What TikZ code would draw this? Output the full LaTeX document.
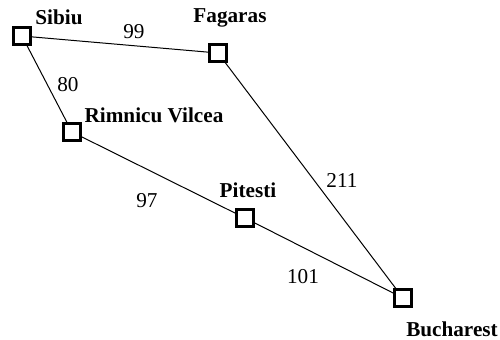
\documentclass[tikz,border=0pt]{standalone}
\usepackage{fontspec}
\setmainfont{Liberation Serif}
\begin{document}
\begin{tikzpicture}[x=0.5pt,y=-0.5pt,font=\fontsize{10.6}{12}\selectfont]
 \tikzstyle{v} = [rectangle, draw, line width=1.5pt, fill=white, inner sep=0pt, minimum size=8.3pt]
    \tikzstyle{e} = [line width=0.5pt]
    \tikzstyle{city} = [inner sep=0pt, font=\fontsize{10.6}{12}\selectfont\bfseries]
    \tikzstyle{dist} = [inner sep=0pt]
    %%
    \useasboundingbox (0,0) rectangle (500,339);

        \node[v] (sib) at (22,36) {};
        \node[v] (fag) at (218,53) {};
        \node[v] (rim) at (72,132) {};
        \node[v] (pit) at (245,218) {};
        \node[v] (buc) at (403,298) {};

        \node[city] (lsib) at (59,17) {Sibiu};
        \node[city] (lfag) at (230,18) {Fagaras};
        \node[city] (lrim) at (154,115) {Rimnicu Vilcea};
        \node[city] (lpit) at (248,190) {Pitesti};
        \node[city] (lbuc) at (452,329) {Bucharest};

        \draw[e] (sib)--(fag); \draw[e] (sib)--(rim);
        \draw[e] (rim)--(pit); \draw[e] (pit)--(buc);
        \draw[e] (fag)--(buc);

        \node[dist] (d1) at (134,32) {99};
        \node[dist] (d2) at (68,85) {80};
        \node[dist] (d3) at (147,201) {97};
        \node[dist] (d4) at (342,180) {211};
        \node[dist] (d5) at (303,277) {101};

    \end{tikzpicture}
\end{document}
